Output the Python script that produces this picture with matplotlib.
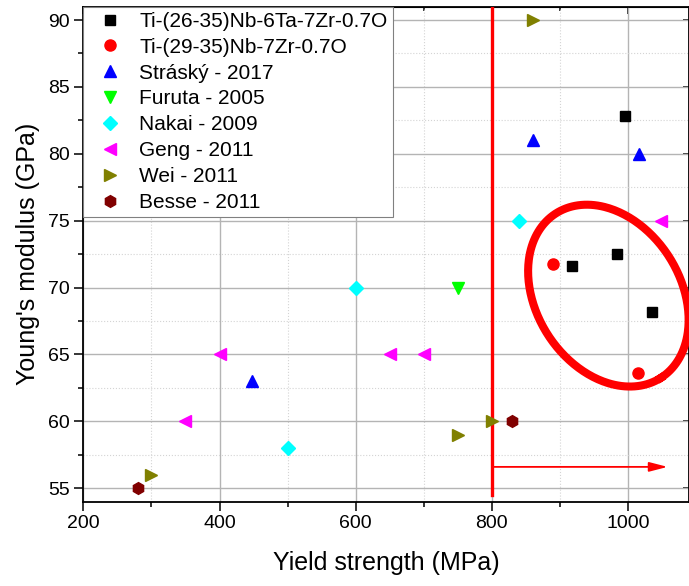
import numpy as np
import matplotlib.pyplot as plt
from matplotlib.ticker import MultipleLocator

plt.rcParams['font.family'] = ['Liberation Sans', 'DejaVu Sans']

# series: (label, marker, color, yield strength MPa, Young's modulus GPa)
ti_nb_ta_x = [917, 983, 995, 1035]
ti_nb_ta_y = [71.6, 72.5, 82.8, 68.2]
ti_nb_zr_x = [889, 1014]
ti_nb_zr_y = [71.8, 63.6]
strasky_x = [447, 860, 1016]
strasky_y = [63, 81, 80]
furuta_x = [750]
furuta_y = [70]
nakai_x = [500, 600, 840]
nakai_y = [58, 70, 75]
geng_x = [350, 400, 650, 700, 1048]
geng_y = [60, 65, 65, 65, 75]
wei_x = [300, 750, 800, 860]
wei_y = [56, 59, 60, 90]
besse_x = [280, 830]
besse_y = [55, 60]

series = [
    ('Ti-(26-35)Nb-6Ta-7Zr-0.7O', 's', '#000000', 7, ti_nb_ta_x, ti_nb_ta_y),
    ('Ti-(29-35)Nb-7Zr-0.7O', 'o', '#ff0000', 8, ti_nb_zr_x, ti_nb_zr_y),
    ('Stráský - 2017', '^', '#0000ff', 9, strasky_x, strasky_y),
    ('Furuta - 2005', 'v', '#00ff00', 9, furuta_x, furuta_y),
    ('Nakai - 2009', 'D', '#00ffff', 7, nakai_x, nakai_y),
    ('Geng - 2011', '<', '#ff00ff', 9, geng_x, geng_y),
    ('Wei - 2011', '>', '#808000', 9, wei_x, wei_y),
    ('Besse - 2011', 'h', '#800000', 8.5, besse_x, besse_y),
]

threshold = 800
arrow_y = 56.6
arrow_end = 1058

# highlight ellipse (data units): centre, major and minor half-axis vectors
ell_center = (971, 69.4)
ell_major = (76.9, -6.15)
ell_minor = (89.3, 2.89)

fig = plt.figure(figsize=(6.89, 5.86), dpi=100)
ax = fig.add_axes([0.1209, 0.1439, 0.8797, 0.8448])

for label, marker, color, ms, xs, ys in series:
    ax.plot(xs, ys, linestyle='none', marker=marker, color=color,
            markersize=ms, markeredgecolor=color, label=label, zorder=5)

ax.set_xlim(200, 1090)
ax.set_ylim(54, 91)
ax.xaxis.set_major_locator(MultipleLocator(200))
ax.xaxis.set_minor_locator(MultipleLocator(100))
ax.yaxis.set_major_locator(MultipleLocator(5))
ax.yaxis.set_minor_locator(MultipleLocator(2.5))

ax.grid(True, which='major', color='#b4b4b4', linewidth=1.0, zorder=0)
ax.grid(True, which='minor', color='#d4d4d4', linestyle=':', linewidth=0.8, zorder=0)
ax.set_axisbelow(True)

ax.tick_params(which='both', direction='out', top=False, right=False,
               labelsize=14, width=1.1, colors='black')
ax.tick_params(which='major', length=6.5, pad=3)
ax.tick_params(which='minor', length=3.5)
for spine in ax.spines.values():
    spine.set_linewidth(1.3)

# inward ticks on top and right
ax_top = ax.secondary_xaxis('top')
ax_top.xaxis.set_major_locator(MultipleLocator(200))
ax_top.xaxis.set_minor_locator(MultipleLocator(100))
ax_top.tick_params(which='both', direction='in', labeltop=False, width=1.1)
ax_top.tick_params(which='major', length=5)
ax_top.tick_params(which='minor', length=3)
ax_right = ax.secondary_yaxis('right')
ax_right.yaxis.set_major_locator(MultipleLocator(5))
ax_right.yaxis.set_minor_locator(MultipleLocator(2.5))
ax_right.tick_params(which='both', direction='in', labelright=False, width=1.1)
ax_right.tick_params(which='major', length=4)
ax_right.tick_params(which='minor', length=0)

ax.set_xlabel('Yield strength (MPa)', fontsize=18, labelpad=14)
ax.set_ylabel("Young's modulus (GPa)", fontsize=18, labelpad=6)

# threshold line and arrow
ax.plot([threshold, threshold], [54.5, 91], color='#ff0000', linewidth=2.4, zorder=4)
ax.annotate('', xy=(arrow_end, arrow_y), xytext=(threshold, arrow_y),
            arrowprops=dict(arrowstyle='-|>,head_length=0.85,head_width=0.22',
                            color='#ff0000', lw=1.3, mutation_scale=13,
                            shrinkA=0, shrinkB=0), zorder=4)

t = np.linspace(0, 2 * np.pi, 300)
ex = ell_center[0] + np.cos(t) * ell_major[0] + np.sin(t) * ell_minor[0]
ey = ell_center[1] + np.cos(t) * ell_major[1] + np.sin(t) * ell_minor[1]
ax.plot(ex, ey, color='#ff0000', linewidth=5.8, zorder=3)

leg = ax.legend(loc='upper left', bbox_to_anchor=(0, 1), borderaxespad=0,
                frameon=True, fancybox=False, edgecolor='#808080',
                facecolor='white', framealpha=1, fontsize=15, numpoints=1,
                borderpad=0.25, handlelength=2.1, handletextpad=0.34,
                labelspacing=0.33)
leg.get_frame().set_linewidth(0.8)
leg.set_zorder(6)

fig.savefig('out.png', dpi=100)
